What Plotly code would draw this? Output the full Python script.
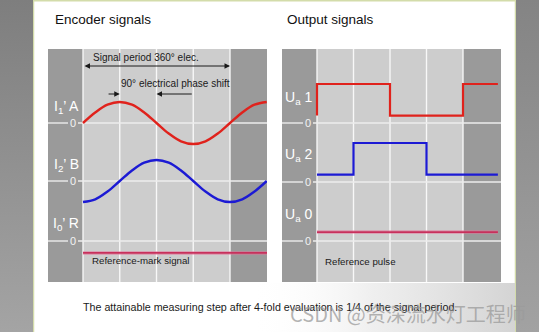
import plotly.graph_objects as go

# ---------------- data ----------------
phase_deg = [0, 30, 60, 90, 120, 150, 180, 210, 240, 270, 300, 330, 360, 390, 420, 450]
sig_A = [0, 0.5, 0.87, 1, 0.87, 0.5, 0, -0.5, -0.87, -1, -0.87, -0.5, 0, 0.5, 0.87, 1]
sig_B = [-1, -0.87, -0.5, 0, 0.5, 0.87, 1, 0.87, 0.5, 0, -0.5, -0.87, -1, -0.87, -0.5, 0]
ref_x = [0, 451]
sig_R = [-0.57, -0.57]

ua1_x = [0, 0, 180, 360, 446]
ua1 = [0.19, 1, 0.19, 1, 1]
ua2_x = [0, 90, 270, 446]
ua2 = [0.19, 1, 0.19, 0.19]
ua0_x = [0, 446]
ua0 = [0.23, 0.23]

grid_deg = [0, 90, 180, 270, 360]
left_labels = ["I<sub>1</sub>’ A", "I<sub>2</sub>’ B", "I<sub>0</sub>’ R"]
right_labels = ["U<sub>a</sub> 1", "U<sub>a</sub> 2", "U<sub>a</sub> 0"]

# ---------------- layout geometry (pixels) ----------------
W, H = 539, 332
FONT = "Liberation Sans, Arial, sans-serif"
TOP, BOT = 49, 282
L_X0, L_X1, L_ORIGIN, L_PER = 48, 267, 83, 147
R_X0, R_X1, R_ORIGIN, R_PER = 282, 501, 317, 146
L_UNIT, R_UNIT = 21.0, 39.0
L_ZEROS = [123, 181, 241]
R_ZEROS = [123, 182, 241]
L_LABEL_Y = [107, 165, 224]
R_LABEL_Y = [98, 155, 215]

RED = "#e0221c"
BLUE = "#1c1ad4"
CRIMSON = "#c8305c"
DARK = "#9a9a9a"
LIGHT = "#cdcdcd"


def px(x):
    return x / W


def py(y):
    return 1 - y / H


def ly(p):  # pixel y -> left data y
    return (BOT - p) / L_UNIT


def ry(p):
    return (BOT - p) / R_UNIT


def deg_range(x0, x1, origin, per):
    return [(x0 - origin) * 360 / per, (x1 - origin) * 360 / per]


fig = go.Figure()

# background axis (x/y) in pixel units for gradient fills
bg = dict(xaxis="x", yaxis="y", mode="lines", line=dict(width=0), fill="toself",
          hoverinfo="skip", showlegend=False)
fig.add_trace(go.Scatter(x=[0, 33, 33, 0, 0], y=[0, 0, H, H, 0],
                         fillgradient=dict(type="vertical", start=0, stop=H,
                                           colorscale=[[0, "#7e7e7e"], [1, "#a4a4a4"]]), **bg))
fig.add_trace(go.Scatter(x=[516, W, W, 516, 516], y=[0, 0, H, H, 0],
                         fillgradient=dict(type="vertical", start=0, stop=H,
                                           colorscale=[[0, "#848484"], [1, "#a2a2a2"]]), **bg))
fig.add_trace(go.Scatter(x=[250, 515, 515, 250, 250], y=[283, 283, H, H, 283],
                         fillgradient=dict(type="horizontal", start=250, stop=515,
                                           colorscale=[[0, "rgba(255,255,255,0)"],
                                                       [0.45, "rgba(238,238,238,0.9)"],
                                                       [1, "rgba(212,212,212,1)"]]), **bg))

# left panel traces
zA, zB, zR = [ly(p) for p in L_ZEROS]
fig.add_trace(go.Scatter(x=phase_deg, y=[zA + v for v in sig_A], xaxis="x2", yaxis="y2",
                         mode="lines", line=dict(color=RED, width=2.4, shape="spline"),
                         hoverinfo="skip", showlegend=False))
fig.add_trace(go.Scatter(x=phase_deg, y=[zB + v for v in sig_B], xaxis="x2", yaxis="y2",
                         mode="lines", line=dict(color=BLUE, width=2.4, shape="spline"),
                         hoverinfo="skip", showlegend=False))
fig.add_trace(go.Scatter(x=ref_x, y=[zR + v for v in sig_R], xaxis="x2", yaxis="y2",
                         mode="lines", line=dict(color="rgba(230,110,150,0.45)", width=4),
                         hoverinfo="skip", showlegend=False))
fig.add_trace(go.Scatter(x=ref_x, y=[zR + v for v in sig_R], xaxis="x2", yaxis="y2",
                         mode="lines", line=dict(color=CRIMSON, width=1.8),
                         hoverinfo="skip", showlegend=False))

# right panel traces
r1, r2, r0 = [ry(p) for p in R_ZEROS]
fig.add_trace(go.Scatter(x=ua1_x, y=[r1 + v for v in ua1], xaxis="x3", yaxis="y3",
                         mode="lines", line=dict(color=RED, width=2.2, shape="hv"),
                         hoverinfo="skip", showlegend=False))
fig.add_trace(go.Scatter(x=ua2_x, y=[r2 + v for v in ua2], xaxis="x3", yaxis="y3",
                         mode="lines", line=dict(color=BLUE, width=2.2, shape="hv"),
                         hoverinfo="skip", showlegend=False))
fig.add_trace(go.Scatter(x=ua0_x, y=[r0 + v for v in ua0], xaxis="x3", yaxis="y3",
                         mode="lines", line=dict(color="rgba(230,110,150,0.45)", width=4),
                         hoverinfo="skip", showlegend=False))
fig.add_trace(go.Scatter(x=ua0_x, y=[r0 + v for v in ua0], xaxis="x3", yaxis="y3",
                         mode="lines", line=dict(color=CRIMSON, width=1.8),
                         hoverinfo="skip", showlegend=False))

shapes = []
# panel borders
border = "#d3dcaa"
shapes.append(dict(type="line", xref="paper", yref="paper", x0=px(33.5), x1=px(33.5), y0=0, y1=1,
                   line=dict(color=border, width=1.5), layer="below"))
shapes.append(dict(type="line", xref="paper", yref="paper", x0=px(515.5), x1=px(515.5), y0=0, y1=1,
                   line=dict(color=border, width=1.5), layer="below"))
shapes.append(dict(type="line", xref="paper", yref="paper", x0=px(33), x1=px(516), y0=py(0.8), y1=py(0.8),
                   line=dict(color=border, width=1.5), layer="below"))

for xa, ya, zeros, x0p, x1p, lab_x in (("x2", "y2", L_ZEROS, L_X0, L_X1, 73),
                                       ("x3", "y3", R_ZEROS, R_X0, R_X1, 308)):
    shapes.append(dict(type="rect", xref=xa + " domain", yref=ya + " domain", x0=0, x1=1, y0=0, y1=1,
                       fillcolor=DARK, line=dict(width=0), layer="below"))
    shapes.append(dict(type="rect", xref=xa, yref=ya + " domain", x0=0, x1=360, y0=0, y1=1,
                       fillcolor=LIGHT, line=dict(width=0), layer="below"))
    for g in grid_deg:
        shapes.append(dict(type="line", xref=xa, yref=ya + " domain", x0=g, x1=g, y0=0, y1=1,
                           line=dict(color="rgba(250,250,250,0.95)", width=1.4), layer="below"))
    for z in zeros:
        shapes.append(dict(type="line", xref="paper", yref="paper", x0=px(x0p), x1=px(lab_x - 5),
                           y0=py(z), y1=py(z), line=dict(color="#ececec", width=1.4), layer="below"))
        shapes.append(dict(type="line", xref="paper", yref="paper", x0=px(lab_x + 5), x1=px(x1p),
                           y0=py(z), y1=py(z), line=dict(color="#ececec", width=1.4), layer="below"))

ann = []


def text(x, y, s, size, color="#1a1a1a", xanchor="center", family=FONT):
    ann.append(dict(x=px(x), y=py(y), xref="paper", yref="paper", text=s, showarrow=False,
                    xanchor=xanchor, yanchor="middle",
                    font=dict(family=family, size=size, color=color)))


text(53, 19, "Encoder signals", 13.5, "#111111", "left")
text(285, 19, "Output signals", 13.5, "#111111", "left")

for s, y in zip(left_labels, L_LABEL_Y):
    text(66, y, s, 14, "#ffffff")
for s, y in zip(right_labels, R_LABEL_Y):
    text(298, y, s, 14, "#ffffff")
for z in L_ZEROS:
    text(73, z, "0", 11, "#f2f2f2")
for z in R_ZEROS:
    text(308, z, "0", 11, "#f2f2f2")

text(146, 58, "Signal period 360° elec.", 10, "#1a1a1a")
text(175, 83, "90° electrical phase shift", 10, "#1a1a1a")
text(90, 260, "Reference-mark signal", 9.7, "#1a1a1a", "left")
text(323, 261, "Reference pulse", 9.7, "#1a1a1a", "left")
text(270, 307, "The attainable measuring step after 4-fold evaluation is 1/4 of the signal period.",
     10.7, "#1a1a1a")
text(408, 313, "CSDN @资深流水灯工程师", 20, "rgba(155,155,155,0.75)",
     family="Noto Sans CJK SC, sans-serif")


# arrows
def arrow(x_head, x_tail, ypix, both=False):
    ann.append(dict(x=x_head, y=ly(ypix), ax=x_tail, ay=ly(ypix), xref="x2", yref="y2",
                    axref="x2", ayref="y2", text="", showarrow=True,
                    arrowhead=2, startarrowhead=2, arrowsize=1.1, startarrowsize=1.1,
                    arrowwidth=1, arrowcolor="#1a1a1a",
                    arrowside="end+start" if both else "end"))


arrow(360, 0, 66, both=True)
arrow(90, 59, 94)
arrow(180, 270, 94)

axis_common = dict(visible=False, fixedrange=True, showgrid=False, zeroline=False)
fig.update_layout(
    width=W, height=H, margin=dict(l=0, r=0, t=0, b=0),
    paper_bgcolor="#ffffff", plot_bgcolor="rgba(0,0,0,0)",
    hovermode=False, showlegend=False,
    xaxis=dict(domain=[0, 1], range=[0, W], anchor="y", **axis_common),
    yaxis=dict(domain=[0, 1], range=[H, 0], anchor="x", **axis_common),
    xaxis2=dict(domain=[px(L_X0), px(L_X1)], range=deg_range(L_X0, L_X1, L_ORIGIN, L_PER),
                anchor="y2", **axis_common),
    yaxis2=dict(domain=[py(BOT), py(TOP)], range=[0, (BOT - TOP) / L_UNIT], anchor="x2", **axis_common),
    xaxis3=dict(domain=[px(R_X0), px(R_X1)], range=deg_range(R_X0, R_X1, R_ORIGIN, R_PER),
                anchor="y3", **axis_common),
    yaxis3=dict(domain=[py(BOT), py(TOP)], range=[0, (BOT - TOP) / R_UNIT], anchor="x3", **axis_common),
    shapes=shapes, annotations=ann,
)

fig.write_html("out.html", config={"displayModeBar": False})
